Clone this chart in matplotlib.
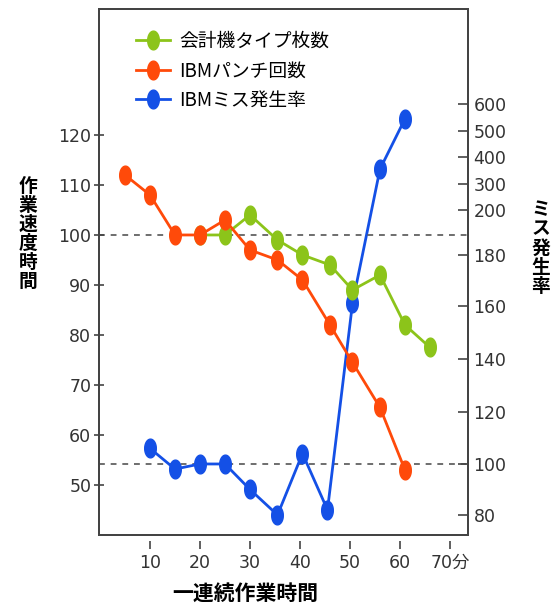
import numpy as np
import matplotlib.pyplot as plt
from matplotlib.lines import Line2D

plt.rcParams['font.family'] = ['DejaVu Sans', 'Noto Sans CJK JP']
JP = ['Noto Sans CJK JP', 'DejaVu Sans']

# data
green_x = [20, 25, 30, 35.5, 40.5, 46, 50.5, 56, 61, 66]
green_y = [100, 100, 104, 99, 96, 94, 89, 92, 82, 77.5]

orange_x = [5, 10, 15, 20, 25, 30, 35.5, 40.5, 46, 50.5, 56, 61]
orange_y = [112, 108, 100, 100, 103, 97, 95, 91, 82, 74.5, 65.5, 53]

blue_x = [10, 15, 20, 25, 30, 35.5, 40.5, 45.5, 50.5, 56, 61]
blue_y = [106, 98, 100, 100, 90, 80, 104, 82, 161, 355, 545]

left_ticks = [50, 60, 70, 80, 90, 100, 110, 120]
right_ticks = [80, 100, 120, 140, 160, 180, 200, 300, 400, 500, 600]
x_ticks = [10, 20, 30, 40, 50, 60, 70]
x_labels = ['10', '20', '30', '40', '50', '60', '70分']

labels = ['会計機タイプ枚数', 'IBMパンチ回数', 'IBMミス発生率']
colors = ['#8cc41a', '#ff4a0a', '#1450e6']

# right axis is broken: linear up to 180, compressed above 200
r_knots = np.array([40, 80, 100, 120, 140, 160, 180, 200, 300, 400, 500, 600, 1000])
l_knots = np.array([23.2, 44, 54.2, 64.6, 75.2, 85.8, 96, 105, 110.2, 115.6, 120.8, 126.2, 147.4])


def fwd(v):
    return np.interp(v, r_knots, l_knots)


def inv(v):
    return np.interp(v, l_knots, r_knots)


# ellipse marker, taller than wide
t = np.linspace(0, 2 * np.pi, 40)
ell = list(zip(0.62 * np.cos(t), np.sin(t)))

fig = plt.figure(figsize=(5.58, 6.06), dpi=100)
ax = fig.add_axes([0.1774, 0.1172, 0.6613, 0.868])
ax2 = ax.twinx()

ax.set_xlim(-0.2, 73.6)
ax.set_ylim(40, 145.2)
ax2.set_yscale('function', functions=(fwd, inv))
ax2.set_ylim(inv(40), inv(145.2))

ax.axhline(100, color='#555555', lw=1.2, ls=(0, (3.5, 3.5)), zorder=1)
ax2.axhline(100, color='#555555', lw=1.2, ls=(0, (3.5, 3.5)), zorder=1)

ax2.plot(blue_x, blue_y, color=colors[2], lw=2, marker=ell, ms=13.5,
         mec=colors[2], zorder=2)
ax.plot(green_x, green_y, color=colors[0], lw=2, marker=ell, ms=13.5,
        mec=colors[0], zorder=3)
ax.plot(orange_x, orange_y, color=colors[1], lw=2, marker=ell, ms=13.5,
        mec=colors[1], zorder=4)
ax.set_zorder(ax2.get_zorder() + 1)
ax.patch.set_visible(False)

for a in (ax, ax2):
    for s in a.spines.values():
        s.set_color('#444444')
        s.set_linewidth(1.4)

ax.set_yticks(left_ticks)
ax.tick_params(axis='y', direction='inout', length=7, width=1.2, color='#444444',
               labelsize=12.5, labelcolor='#333333', pad=2)
ax2.set_yticks(right_ticks)
ax2.set_yticklabels([str(v) for v in right_ticks])
ax2.minorticks_off()
ax2.tick_params(axis='y', direction='in', length=7, width=1.2, color='#444444',
                labelsize=12.5, labelcolor='#333333', pad=4)

ax.tick_params(axis='x', bottom=False, labelbottom=False)
sec = ax.secondary_xaxis(-0.012)
sec.spines['bottom'].set_visible(False)
sec.set_xticks(x_ticks)
sec.set_xticklabels(x_labels)
sec.tick_params(axis='x', direction='out', length=6, width=1.2, color='#444444',
                labelsize=12.5, labelcolor='#333333', pad=3)
for lab in sec.get_xticklabels():
    lab.set_fontfamily(['DejaVu Sans', 'Noto Sans CJK JP'])

handles = [Line2D([], [], color=c, lw=2, marker=ell, ms=13.5, mec=c) for c in colors]
ax.legend(handles, labels, loc='upper left', bbox_to_anchor=(0.1, 0.958),
          frameon=False, borderpad=0, borderaxespad=0, handlelength=1.8,
          handletextpad=0.5, labelspacing=0.45,
          prop={'family': JP, 'size': 13.5})

fig.text(28 / 558, 1 - 234 / 606, '\n'.join('作業速度時間'), ha='center', va='center',
         family=JP, weight='bold', fontsize=13.5, linespacing=1.0)
fig.text(541 / 558, 1 - 248 / 606, '\n'.join('ミス発生率'), ha='center', va='center',
         family=JP, weight='bold', fontsize=13.5, linespacing=1.0)
fig.text(245 / 558, 1 - 593 / 606, '一連続作業時間', ha='center', va='center',
         family=JP, weight='bold', fontsize=15)

fig.savefig('out.png', dpi=100)
